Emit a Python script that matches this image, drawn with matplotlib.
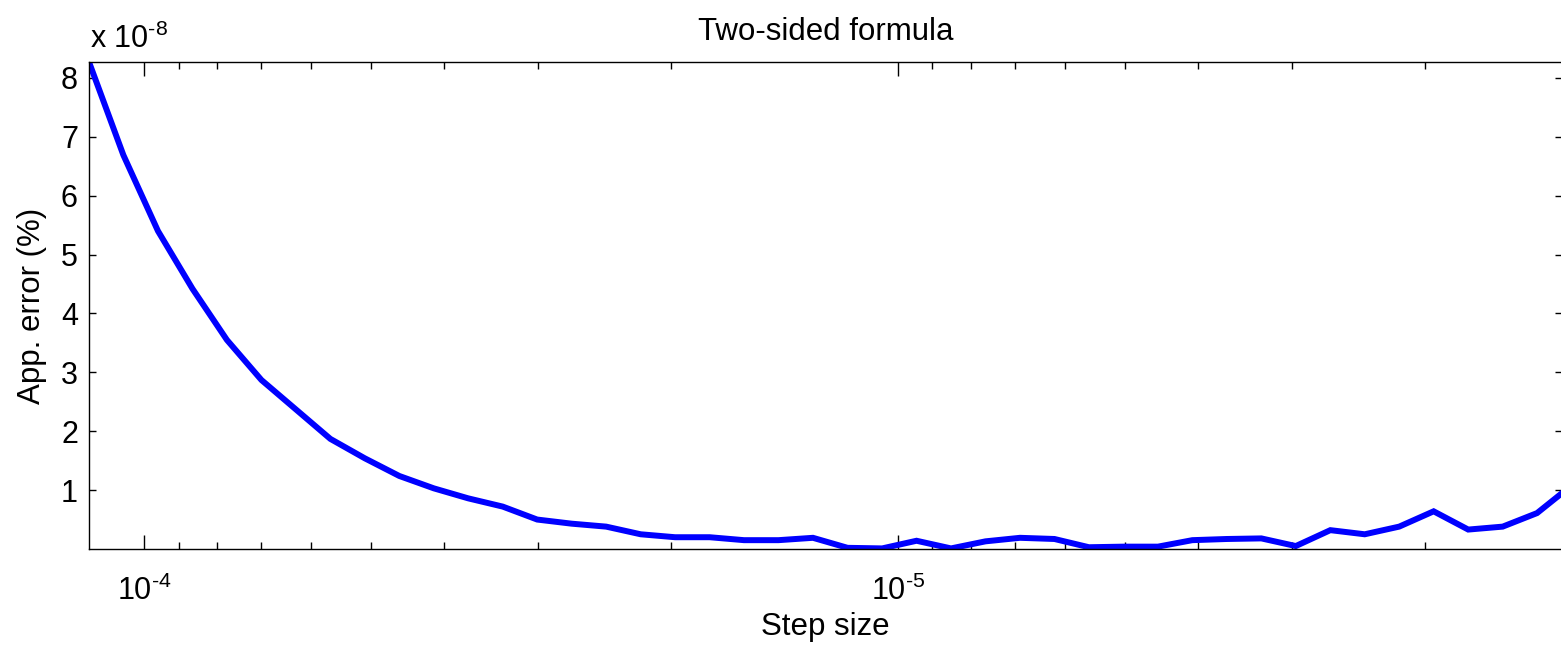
import matplotlib
matplotlib.use("Agg")
import matplotlib.pyplot as plt
import numpy as np
from matplotlib import ticker

plt.rcParams['font.family'] = ['Liberation Sans', 'DejaVu Sans']
plt.rcParams['mathtext.fontset'] = 'custom'
plt.rcParams['mathtext.rm'] = 'Liberation Sans'
plt.rcParams['mathtext.it'] = 'Liberation Sans:italic'
plt.rcParams['mathtext.default'] = 'regular'
plt.rcParams['axes.unicode_minus'] = False

# step sizes
step_size = [1.184e-4, 1.066e-4, 9.590e-5, 8.631e-5, 7.768e-5, 6.991e-5,
             6.292e-5, 5.663e-5, 5.097e-5, 4.587e-5, 4.128e-5, 3.716e-5,
             3.344e-5, 3.010e-5, 2.709e-5, 2.438e-5, 2.194e-5, 1.975e-5,
             1.777e-5, 1.600e-5, 1.440e-5, 1.296e-5, 1.166e-5, 1.049e-5,
             9.444e-6, 8.500e-6, 7.650e-6, 6.885e-6, 6.196e-6, 5.577e-6,
             5.019e-6, 4.517e-6, 4.066e-6, 3.659e-6, 3.293e-6, 2.964e-6,
             2.667e-6, 2.401e-6, 2.161e-6, 1.945e-6, 1.750e-6, 1.575e-6,
             1.418e-6, 1.276e-6]

# approximation error in units of 1e-8 (%)
app_error = [8.27, 6.69, 5.40, 4.42, 3.55, 2.87, 2.37, 1.87, 1.54, 1.24,
             1.03, 0.86, 0.72, 0.50, 0.43, 0.38, 0.25, 0.20, 0.20, 0.15,
             0.15, 0.19, 0.02, 0.01, 0.14, 0.01, 0.13, 0.19, 0.17, 0.03,
             0.04, 0.04, 0.15, 0.17, 0.18, 0.05, 0.32, 0.25, 0.38, 0.64,
             0.33, 0.38, 0.61, 1.08]

y_ticks = [1, 2, 3, 4, 5, 6, 7, 8]
x_ticks = [1e-4, 1e-5]


def pow10_label(v, pos=None):
    # MATLAB style: plain hyphen in the exponent
    e = int(round(np.log10(v)))
    return r'10$^{\text{%d}}$' % e


fig = plt.figure(figsize=(15.61, 6.47), dpi=100)
ax = fig.add_axes([89 / 1561, 1 - 549 / 647, (1562 - 89) / 1561, (549 - 62) / 647])

ax.plot(step_size, app_error, color=(0, 0, 1), linewidth=4.3, solid_joinstyle='miter')

ax.set_xscale('log')
ax.set_xlim(1.184e-4, 1.314e-6)
ax.set_ylim(0, 8.27)
ax.set_yticks(y_ticks)
ax.set_xticks(x_ticks)
ax.yaxis.set_major_formatter(ticker.FormatStrFormatter('%d'))
ax.xaxis.set_major_formatter(ticker.FuncFormatter(pow10_label))
ax.xaxis.set_minor_formatter(ticker.NullFormatter())

for s in ax.spines.values():
    s.set_linewidth(1.0)
    s.set_color('black')

ax.tick_params(axis='both', which='both', direction='in', top=True, right=True,
               labelsize=22, width=1.0, color='black')
ax.tick_params(axis='y', which='major', length=5, pad=8)
ax.tick_params(axis='x', which='major', length=10, pad=19)
ax.tick_params(axis='x', which='minor', length=5)

ax.set_title('Two-sided formula', fontsize=22.5, pad=16)
ax.set_xlabel('Step size', fontsize=22.5, labelpad=4)
ax.set_ylabel('App. error (%)', fontsize=22.5, labelpad=10)
fig.text(90 / 1561, 1 - 48 / 647, r'x 10$^{\text{-8}}$', fontsize=22, ha='left', va='baseline')

fig.savefig('out.png', dpi=100)
